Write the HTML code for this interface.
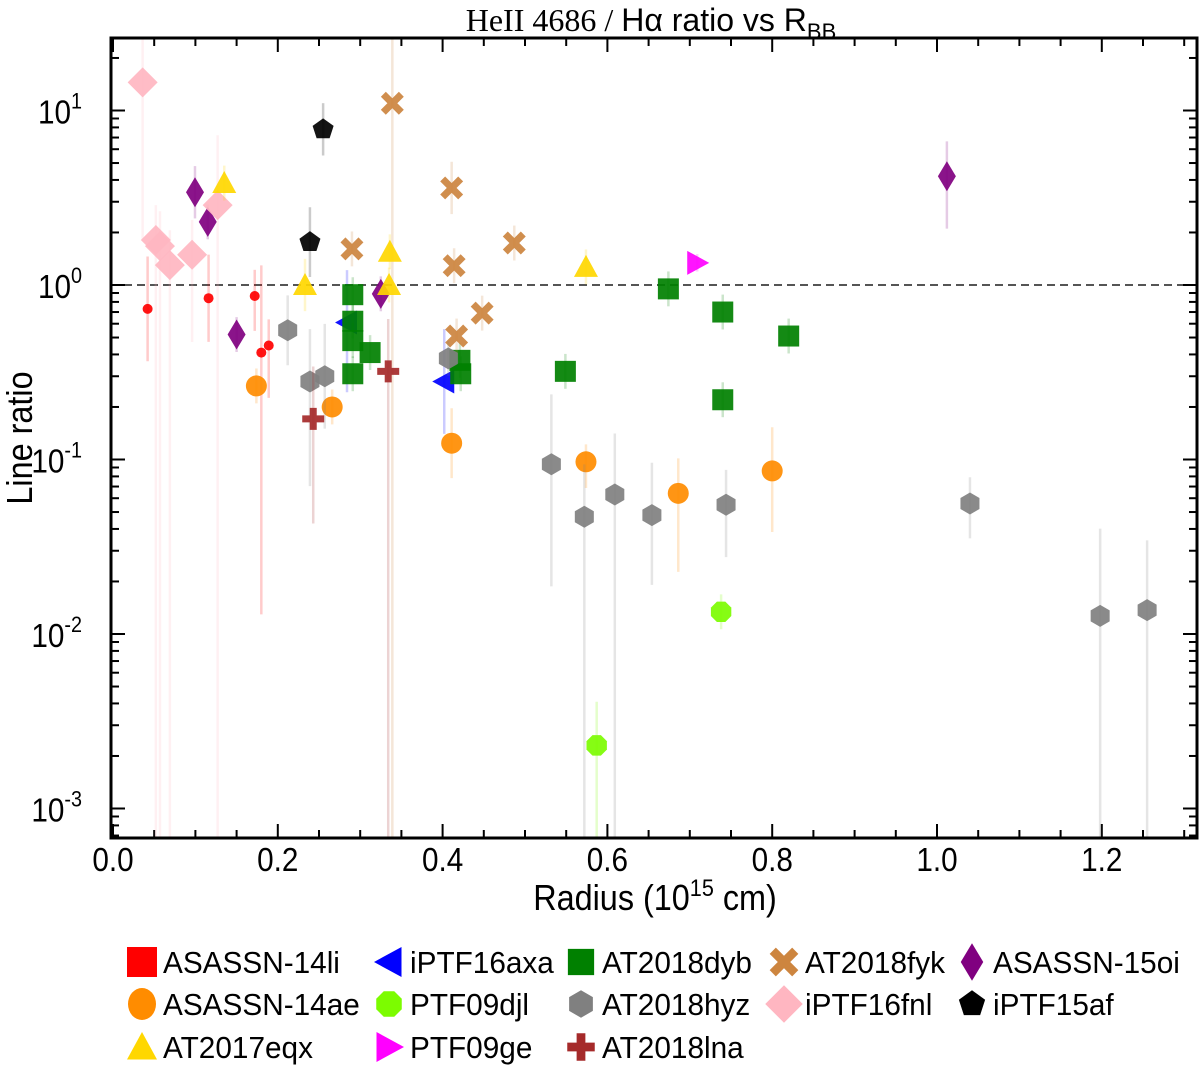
<!DOCTYPE html>
<html><head><meta charset="utf-8"><style>
html,body{margin:0;padding:0;background:#fff;}
svg{display:block;font-family:"Liberation Sans",sans-serif;}
</style></head><body>
<svg id="chart" width="1200" height="1079" viewBox="0 0 1200 1079">
<text x="651" y="31" text-anchor="middle" font-size="32"><tspan font-family="Liberation Serif,serif">HeII 4686 / </tspan>Hα ratio vs R<tspan font-size="22" dy="8">BB</tspan></text>
<g id="grid"></g>
<g id="marks"></g>
<rect x="111" y="38" width="1086" height="800" fill="none" stroke="#000" stroke-width="3"/>
<text transform="translate(32,438) rotate(-90) scale(0.9,1)" text-anchor="middle" font-size="36">Line ratio</text>
<text transform="translate(655,910) scale(0.9,1)" text-anchor="middle" font-size="36">Radius (10<tspan font-size="24" dy="-14">15</tspan><tspan dy="14"> cm)</tspan></text>
<g id="legend"></g>
</svg>
<script>
const xTicks=[0,0.2,0.4,0.6,0.8,1.0,1.2];
const xTickLabels=["0.0","0.2","0.4","0.6","0.8","1.0","1.2"];
const yDecades=[1,0,-1,-2,-3];
const names=["ASASSN-14li","iPTF16axa","AT2018dyb","AT2018fyk","ASASSN-15oi","ASASSN-14ae","PTF09djl","AT2018hyz","iPTF16fnl","iPTF15af","AT2017eqx","PTF09ge","AT2018lna"];
const colors=["#ff0000","#0000ff","#008000","#cd853f","#800080","#ff8c00","#7cfc00","#808080","#ffb6c1","#000000","#ffd700","#ff00ff","#a52a2a"];
const shapes=["circle-s","tri-left","square","x","diamond","circle","oct","hex","bigdiamond","pent","tri-up","tri-right","plus"];
const x14li=[0.042,0.116,0.172,0.180,0.189];
const y14li=[0.73,0.84,0.865,0.41,0.45];
const x16axa=[0.284,0.402];
const y16axa=[0.61,0.28];
const xdyb=[0.291,0.291,0.291,0.312,0.291,0.421,0.422,0.549,0.674,0.740,0.740,0.820];
const ydyb=[0.88,0.62,0.48,0.41,0.31,0.37,0.31,0.32,0.95,0.70,0.22,0.51];
const xfyk=[0.339,0.411,0.290,0.414,0.487,0.417,0.448];
const yfyk=[11.0,3.6,1.61,1.29,1.74,0.51,0.69];
const x15oi=[0.0995,0.115,0.150,0.325,1.012];
const y15oi=[3.4,2.3,0.52,0.89,4.2];
const x14ae=[0.174,0.266,0.411,0.574,0.686,0.800];
const y14ae=[0.264,0.20,0.124,0.097,0.064,0.086];
const xdjl=[0.738,0.587];
const ydjl=[0.0134,0.0023];
const xhyz=[0.212,0.239,0.257,0.407,0.532,0.572,0.609,0.654,0.744,1.040,1.198,1.255];
const yhyz=[0.55,0.28,0.30,0.38,0.094,0.047,0.063,0.048,0.055,0.056,0.0127,0.0137];
const xfnl=[0.036,0.052,0.057,0.069,0.096,0.127];
const yfnl=[14.5,1.81,1.67,1.30,1.49,2.87];
const x15af=[0.255,0.239];
const y15af=[7.8,1.76];
const xeqx=[0.135,0.233,0.336,0.335,0.574];
const yeqx=[3.84,1.0,1.55,1.0,1.27];
const xge=[0.709];
const yge=[1.34];
const xlna=[0.243,0.334];
const ylna=[0.171,0.32];
const errUp=[[0.3,0.25,0.15,0.5,0.15],[0.3,0.3],[0.1,0.1,0.1,0.1,0.1,0.1,0.1,0.1,0.1,0.1,0.1,0.1],[5,0.15,0.1,0.1,0.1,0.1,0.1],[0.15,0.1,0.1,0.1,0.2],[0.1,0.1,0.2,0.1,0.2,0.25],[0.1,0.25],[0.2,0.3,0.3,0.1,0.4,0.3,0.35,0.3,0.2,0.15,0.5,0.4],[0.3,0.2,0.2,0.2,0.2,0.4],[0.15,0.2],[0.1,0.15,0.1,0.1,0.1],[0.05],[0.3,0.3]];
const errDn=[[0.3,0.25,0.2,1.5,0.3],[0.4,0.3],[0.1,0.1,0.1,0.1,0.1,0.1,0.1,0.1,0.1,0.1,0.1,0.1],[5,0.15,0.1,0.1,0.1,0.1,0.1],[0.15,0.1,0.1,0.1,0.3],[0.1,0.1,0.2,0.15,0.45,0.35],[0.1,5],[0.2,0.6,0.3,0.1,0.7,5,5,0.4,0.3,0.2,5,5],[0.9,5,5,5,0.5,5],[0.15,0.2],[0.1,0.15,0.1,0.1,0.1],[0.05],[0.6,5]];
const xsAll=[x14li,x16axa,xdyb,xfyk,x15oi,x14ae,xdjl,xhyz,xfnl,x15af,xeqx,xge,xlna];
const ysAll=[y14li,y16axa,ydyb,yfyk,y15oi,y14ae,ydjl,yhyz,yfnl,y15af,yeqx,yge,ylna];
const NS="http://www.w3.org/2000/svg";
const X0=113,XS=824,Y0=285,YS=174.5,TOP=38,BOT=838,L=111,R=1197;
function sx(v){return X0+v*XS;}
function sy(v){return Y0-Math.log10(v)*YS;}
function mk(tag,attrs,parent){const e=document.createElementNS(NS,tag);for(const k in attrs)e.setAttribute(k,attrs[k]);parent.appendChild(e);return e;}
function poly(n,r,rot){let p=[];for(let i=0;i<n;i++){const a=rot+i*2*Math.PI/n;p.push((r*Math.cos(a)).toFixed(1)+","+(r*Math.sin(a)).toFixed(1));}return p.join(" ");}
function marker(shape,cx,cy,col,parent,s){
  s=s||1;
  const g=mk("g",{transform:`translate(${cx},${cy}) scale(${s})`},parent);
  switch(shape){
   case "circle-s":mk("circle",{r:5,fill:col},g);break;
   case "circle":mk("circle",{r:10.5,fill:col},g);break;
   case "square":mk("rect",{x:-10.5,y:-10.5,width:21,height:21,fill:col},g);break;
   case "tri-up":mk("polygon",{points:"0,-12 12,10 -12,10",fill:col},g);break;
   case "tri-left":mk("polygon",{points:"-12,0 10,-12 10,12",fill:col},g);break;
   case "tri-right":mk("polygon",{points:"12,0 -10,-12 -10,12",fill:col},g);break;
   case "diamond":mk("polygon",{points:"0,-15 9,0 0,15 -9,0",fill:col},g);break;
   case "bigdiamond":mk("polygon",{points:"0,-15 15,0 0,15 -15,0",fill:col},g);break;
   case "hex":mk("polygon",{points:poly(6,11,-Math.PI/2),fill:col},g);break;
   case "oct":mk("polygon",{points:poly(8,11,Math.PI/8),fill:col},g);break;
   case "pent":mk("polygon",{points:poly(5,11,-Math.PI/2),fill:col},g);break;
   case "x":mk("path",{d:"M-9,-9L9,9M-9,9L9,-9",stroke:col,"stroke-width":7},g);break;
   case "plus":mk("path",{d:"M0,-11V11M-11,0H11",stroke:col,"stroke-width":7},g);break;
  }
  return g;
}
const grid=document.getElementById("grid");
const dl=mk("line",{x1:L,x2:R,y1:sy(1),y2:sy(1),stroke:"#555","stroke-width":2,"stroke-dasharray":"8,5"},grid);


for(let v=0;v<=1.3001;v+=0.05){
  const major=Math.abs(v/0.2-Math.round(v/0.2))<1e-6, len=major?14:8, x=sx(v);
  mk("line",{x1:x,x2:x,y1:BOT,y2:BOT-len,stroke:"#000","stroke-width":2},grid);
  mk("line",{x1:x,x2:x,y1:TOP,y2:TOP+len,stroke:"#000","stroke-width":2},grid);
}
xTicks.forEach((v,i)=>{const t=mk("text",{transform:`translate(${sx(v)},871) scale(0.9,1)`,"text-anchor":"middle","font-size":33},grid);t.textContent=xTickLabels[i];

});
for(let d=-4;d<=1;d++){for(let m=1;m<10;m++){const v=m*Math.pow(10,d);const y=sy(v);if(y<TOP||y>BOT)continue;const len=m==1?14:8;
 mk("line",{x1:L,x2:L+len,y1:y,y2:y,stroke:"#000","stroke-width":2},grid);
 mk("line",{x1:R,x2:R-len,y1:y,y2:y,stroke:"#000","stroke-width":2},grid);}}
yDecades.forEach(d=>{const t=mk("text",{transform:`translate(82,${sy(Math.pow(10,d))+13}) scale(0.9,1)`,"text-anchor":"end","font-size":33},grid);
 t.textContent="10";const s=mk("tspan",{"font-size":22,dy:-15},t);s.textContent=String(d);
 
 });
const marks=document.getElementById("marks");
xsAll.forEach((xs,si)=>{
  const g=mk("g",{},marks);
  
  
  xs.forEach((xv,i)=>{const yv=ysAll[si][i];const eu=errUp[si][i],ed=errDn[si][i];
   const y1=Math.max(TOP,sy(yv*Math.pow(10,eu))),y2=Math.min(BOT,sy(yv/Math.pow(10,ed)));
   const l=mk("line",{x1:sx(xv),x2:sx(xv),y1:y1,y2:y2,stroke:colors[si],"stroke-width":2.5,opacity:0.2},g);
   
   });
  xs.forEach((xv,i)=>{const m=marker(shapes[si],sx(xv),sy(ysAll[si][i]),colors[si],g);m.setAttribute("opacity",0.92);
   
   });
});
const leg=document.getElementById("legend");
const colX=[142,389,581,784,972];
const rowY=[962,1004,1047];
const order=[[0,1,2,3,4],[5,6,7,8,9],[10,11,12]];
order.forEach((row,ri)=>row.forEach((si,ci)=>{
  const g=mk("g",{},leg);
  
  
  if(shapes[si]=="circle-s"){mk("rect",{x:colX[ci]-15,y:rowY[ri]-15,width:30,height:30,fill:colors[si]},g);}
  else if(shapes[si]=="circle"){mk("ellipse",{cx:colX[ci],cy:rowY[ri],rx:14,ry:16,fill:colors[si]},g);}
  else marker(shapes[si],colX[ci],rowY[ri],colors[si],g,1.25);
  const t=mk("text",{transform:`translate(${colX[ci]+21},${rowY[ri]+11}) scale(0.96,1)`,"font-size":31},g);t.textContent=names[si];
}));
</script>
</body></html>
